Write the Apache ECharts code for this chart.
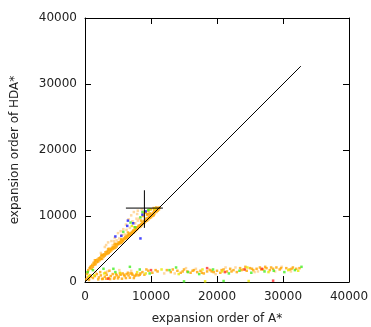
<!DOCTYPE html>
<html>
<head>
<meta charset="utf-8">
<script src="https://cdn.jsdelivr.net/npm/echarts@6/dist/echarts.min.js"></script>
<style>
  html, body { margin: 0; padding: 0; background: #fff; }
  #chart { width: 371px; height: 327px; }
</style>
</head>
<body>
<div id="chart"></div>
<script>
var ticks = [0, 10000, 20000, 30000, 40000];

// diagonal y = x
var diagonal = [[0, 0], [32700, 32700]];

// error cross (mean with spread)
var errCenter = [9000, 11200];
var errXRange = [6200, 11800];
var errYRange = [8200, 13900];

var orangePts = [
  [200,400],[400,700],[600,300],[800,1000],[300,1200],[500,1800],[700,2100],[900,2400],[1100,2600],[1300,2900],
  [1500,3000],[1700,3300],[1900,3400],[2100,3600],[2300,3700],[2500,3900],[2700,4100],[2900,4200],[3100,4500],
  [3300,4600],[3500,4700],[3700,4900],[3900,5000],[4100,5200],[4300,5300],[4500,5500],[4700,5700],[4900,5800],
  [5100,6000],[5300,6100],[5500,6300],[5700,6400],[5900,6600],[6100,6800],[6300,7000],[6500,7100],[6700,7300],
  [6900,7400],[7100,7600],[7300,7800],[7500,7900],[7700,8100],[7900,8300],[8100,8500],[8300,8600],[8500,8800],
  [8700,9000],[8900,9200],[9100,9400],[9300,9600],[9500,9700],[9700,9900],[9900,10100],[10100,10300],[10300,10500],
  [10500,10700],[10700,10900],[10900,11000],[11100,11200],[11300,11300],
  [1000,2000],[1600,2700],[2000,3100],[2600,3500],[3000,4000],[3600,4400],[4000,4800],[4600,5200],[5000,5700],
  [5600,6000],[6000,6500],[6600,6900],[7000,7200],[7600,7700],[8000,8100],[8600,8600],[9000,9000],[9400,9300],
  [9800,9700],[10200,10000],[10500,10300],[11000,10800],[9200,10500],[9600,10800],[10000,11000],[10400,11200],
  [9800,10400],[10800,11300],[8800,10000],[9400,10200],
  [400,1500],[800,2200],[1200,2300],[1400,2600],[1800,3000],[2200,3300],[2400,3500],[2800,3800],[3200,4200],
  [3400,4300],[3800,4600],[4200,5000],[4400,5100],[4800,5400],[5200,5800],[5400,5900],[5800,6200],[6200,6600],
  [6400,6700],[6800,7100],[7200,7400],[7400,7500],[7800,7900],[8200,8300],[8400,8400],[8800,8800],[9200,9200],
  [9600,9500],[10000,9800],[10400,10100],[10800,10600],[11200,11000],[1500,3300],[2500,4100],[3500,5000],
  [4500,5800],[5500,6500],[6500,7500],[7500,8300],[8500,9300],[9500,10300],[10500,11000],
  [600,500],[900,800],[1200,600],[1500,900],[1800,1200],[2100,700],[2400,1000],[2700,500],[3000,800],
  [3300,1100],[3600,600],[3900,900],[4200,1200],[4500,700],[4800,1000],[5100,800],[5400,1100],[5700,1300],
  [6000,900],[6300,1200],[6600,1000],[6900,1300],[7200,1100],[7500,900],[7800,1200],[8100,1000],[8400,1300],
  [8700,1500],[9000,1100],[9600,1700],[10200,1400],[11000,1600],[2000,400],[2600,450],[3200,500],[3800,450],
  [4400,500],[5000,550],[5600,500],[6200,600],[6800,650],[7400,600],[4700,1200],[5300,1300],[5900,1100],
  [6500,1400],[7100,1300],[7700,1000],[8300,1100],[2300,1500],[3100,1400],[3700,1700],[9300,1900],[10700,1800],
  [12400,1800],[13000,1500],[14000,1700],[14500,1400],[15000,1900],[15500,1600],[16000,1400],[16500,1800],
  [17000,1500],[17500,1700],[18000,1300],[18500,1600],[19000,1800],[19500,1500],[20000,1700],[20500,1400],
  [21000,1900],[21500,1600],[22000,2000],[22500,1800],[23000,1500],[23500,2100],[24000,1900],[24500,1700],
  [25000,2100],[25500,1800],[26000,2000],[26500,2200],[27000,1900],[27500,2100],[28000,1800],[28500,2000],
  [29000,2200],[29500,1900],[30500,2100],[31000,1900],[31500,2200],[32000,2000],[32500,2100],
  [13300,1900],[14800,1600],[16300,1700],[17700,1400],[19200,1600],[20700,1800],[22200,1600],[23700,1800],
  [25300,2000],[26700,1900],[28200,2200],[29700,2100],[31300,2000],[24300,2300],[27300,2300]
];

var lightPts = [
  [3000,5300],[3500,6000],[4000,6200],[4500,6700],[5000,7400],[5200,6600],[5800,8000],[6200,8700],[6600,9500],
  [7000,10100],[7400,10600],[7800,9600],[8000,10800],[4200,5600],[3700,5100],[6800,8200],[7200,9200],[5400,7700],
  [8200,9600],[8600,11000],[6000,7200],[4800,6300],[1600,1500],[3400,1600],[5200,1800],[7000,1700],[13600,1300],
  [16800,2000],[19800,1200],[22800,2200],[26200,1600],[29800,2300],[31200,1600],[2400,4400],[5600,7100],
  [6300,7900],[7600,8900],[8000,9300],[4400,6200],[3200,5600],[9000,10700],[7900,10300],[12000,1300],[15300,2100],
  [18800,1900],[21300,2200],[25700,1500],[28800,1600]
];

var yellowPts = [
  [1400,1000],[2900,1300],[5300,1400],[7900,1500],[9200,1300],[11600,1900],[14200,1200],[17800,1900],[20800,1600],
  [24600,2200],[27800,1500],[30800,1800],[32300,1700],[8900,10400],[9800,11000],[7100,8500],[10600,11100],
  [18200,100],[24800,150],[600,900]
];

var greenPts = [
  [1200,1800],[2800,2000],[4300,2000],[4600,1500],[6800,2300],[8300,1900],[9800,1300],[12800,1800],[13800,2200],
  [15600,1500],[17300,1200],[19400,1900],[21800,1300],[23400,1700],[25200,1400],[27200,1600],[28600,1700],
  [30200,1500],[31800,1800],[32800,2300],[7600,8300],[8400,9800],[6900,9000],[5800,7600],[8700,10600],
  [9600,10900],[15000,100],[21000,150],[400,1500]
];

var bluePts = [
  [5500,7000],[6400,8500],[8400,6600],[8700,10200],[7300,8900],[9200,10700],[4600,6900],[6500,9300]
];

var redPts = [
  [3500,500],[10000,1800],[18500,2100],[24200,1900],[28500,200],[21200,1500],[26800,2000]
];

function scatter(name, data, color) {
  return {
    name: name,
    type: 'scatter',
    data: data,
    symbol: 'rect',
    symbolSize: 2.5,
    itemStyle: { color: color },
    silent: true
  };
}

function lineSeries(data) {
  return {
    type: 'line',
    data: data,
    symbol: 'none',
    lineStyle: { color: '#000', width: 1 },
    silent: true,
    z: 5
  };
}

var chart = echarts.init(document.getElementById('chart'));

var baseAxis = {
  type: 'value',
  min: ticks[0],
  max: ticks[ticks.length - 1],
  interval: ticks[1] - ticks[0],
  splitLine: { show: false },
  axisLine: { show: true, onZero: false, lineStyle: { color: '#000', width: 1 } },
  axisTick: { show: true, inside: true, length: 6, lineStyle: { color: '#000' } }
};

var labelStyle = {
  color: '#222', fontSize: 12, fontFamily: 'DejaVu Sans',
  formatter: function (v) { return String(v); }
};

var option = {
  animation: false,
  grid: { left: 85, top: 18, width: 264, height: 264, outerBoundsMode: 'none', containLabel: false },
  xAxis: [
    Object.assign({}, baseAxis, {
      position: 'bottom',
      name: 'expansion order of A*',
      nameLocation: 'middle',
      nameGap: 31,
      nameTextStyle: { color: '#222', fontSize: 12, fontFamily: 'DejaVu Sans' },
      axisLabel: Object.assign({ margin: 9 }, labelStyle)
    }),
    Object.assign({}, baseAxis, { position: 'top', axisLabel: { show: false } })
  ],
  yAxis: [
    Object.assign({}, baseAxis, {
      position: 'left',
      name: 'expansion order of HDA*',
      nameLocation: 'middle',
      nameGap: 64,
      nameTextStyle: { color: '#222', fontSize: 12, fontFamily: 'DejaVu Sans' },
      axisLabel: Object.assign({ margin: 8 }, labelStyle)
    }),
    Object.assign({}, baseAxis, { position: 'right', axisLabel: { show: false } })
  ],
  series: [
    scatter('light', lightPts, '#ffcf8a'),
    scatter('orange', orangePts, '#ffa500'),
    scatter('yellow', yellowPts, '#e8e800'),
    scatter('green', greenPts, '#44ee22'),
    scatter('blue', bluePts, '#1a1aff'),
    scatter('red', redPts, '#ff2a2a'),
    lineSeries(diagonal),
    lineSeries([[errXRange[0], errCenter[1]], [errXRange[1], errCenter[1]]]),
    lineSeries([[errCenter[0], errYRange[0]], [errCenter[0], errYRange[1]]])
  ]
};

chart.setOption(option);
</script>
</body>
</html>
